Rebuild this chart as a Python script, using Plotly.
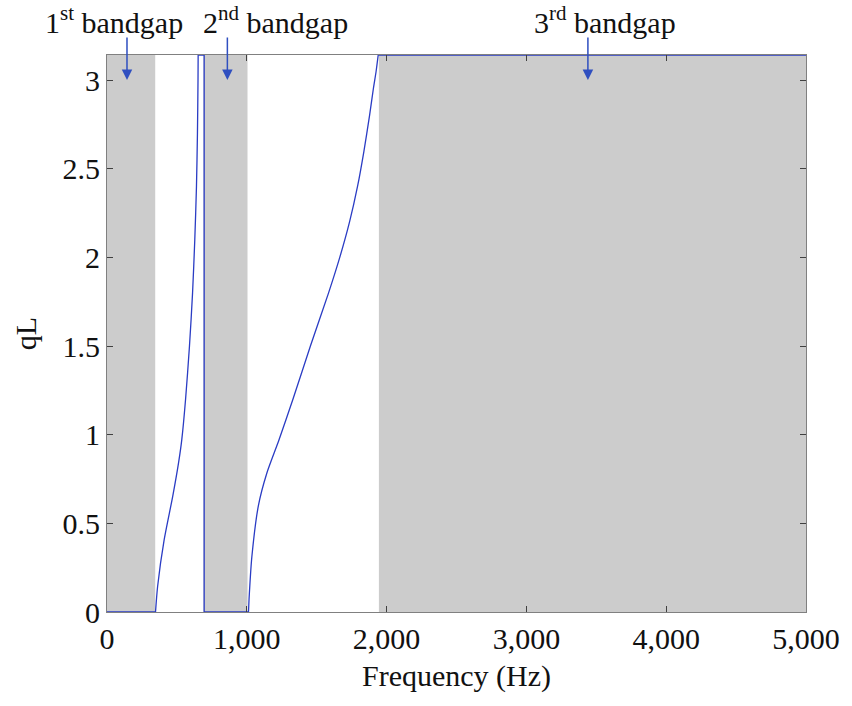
import numpy as np
import plotly.graph_objects as go

PI = np.pi

# Band gap limits (Hz)
gap_start = [0, 690, 1945]
gap_end = [345, 1005, 5000]

# First pass band: frequency (Hz) and normalised wavenumber qL
band1_freq = [347, 362, 409, 470, 512, 535, 562, 590, 612, 628, 640, 647, 651, 652]
band1_qL = [0.0, 0.144, 0.408, 0.652, 0.842, 0.972, 1.2, 1.5, 1.8, 2.1, 2.4, 2.7, 3.0, PI]

# Flat band and second gap
flat_freq = [652, 695, 695, 1012]
flat_qL = [PI, PI, 0.0, 0.0]

# Second pass band
band2_freq = [1012, 1018, 1036, 1083, 1142, 1230, 1330, 1455, 1585, 1665, 1735, 1792, 1838, 1878, 1905, 1925, 1940]
band2_qL = [0.0, 0.1, 0.31, 0.6, 0.78, 0.97, 1.2, 1.5, 1.8, 2.0, 2.2, 2.4, 2.6, 2.8, 2.95, 3.05, PI]

# Third gap (real part of qL equals pi)
tail_freq = [1940, 5000]
tail_qL = [PI, PI]

x_ticks = [0, 1000, 2000, 3000, 4000, 5000]
y_ticks = [0, 0.5, 1, 1.5, 2, 2.5, 3]

labels = ["1<sup>st</sup> bandgap", "2<sup>nd</sup> bandgap", "3<sup>rd</sup> bandgap"]
label_x = [48, 1204, 3565]
arrow_x = [143, 861, 3440]

FONT = "Liberation Serif"
BLUE = "#2a3cc4"
ARROW = "#2f4fc0"
TXT = "#111111"

fig = go.Figure()

for a, b in zip(gap_start, gap_end):
    fig.add_shape(type="rect", xref="x", yref="y", x0=a, x1=b, y0=0, y1=PI,
                  fillcolor="#cccccc", line=dict(width=0), layer="below")

line_style = dict(color=BLUE, width=1.3)
# straight segments
for fx, qy in ([[0, 345], [0.0, 0.0]], [flat_freq, flat_qL], [tail_freq, tail_qL]):
    fig.add_trace(go.Scatter(x=fx, y=qy, mode="lines", line=line_style,
                             showlegend=False, cliponaxis=False))
# dispersion branches
for fx, qy in ((band1_freq, band1_qL), (band2_freq, band2_qL)):
    fig.add_trace(go.Scatter(x=fx, y=qy, mode="lines",
                             line=dict(shape="spline", smoothing=0.7, **line_style),
                             showlegend=False, cliponaxis=False))

for lx, ax_, txt in zip(label_x, arrow_x, labels):
    fig.add_annotation(x=lx, y=1.063, xref="x", yref="paper", text=txt,
                       showarrow=False, xanchor="center", yanchor="middle",
                       font=dict(family=FONT, size=30, color=TXT))
    fig.add_annotation(x=ax_, y=3.0, xref="x", yref="y", text="",
                       showarrow=True, ax=0, ay=-44, arrowhead=2,
                       arrowsize=1.4, arrowwidth=1.5, arrowcolor=ARROW)

axis_common = dict(showline=True, linecolor="#808080", linewidth=1.2,
                   mirror="allticks", ticks="inside", ticklen=6,
                   tickcolor="#404040", tickwidth=1, showgrid=False,
                   zeroline=False,
                   tickfont=dict(family=FONT, size=30, color=TXT))

fig.update_xaxes(range=[0, 5000], tickvals=x_ticks,
                 ticktext=[f"{v:,}" for v in x_ticks],
                 title=dict(text="Frequency (Hz)", standoff=10,
                            font=dict(family=FONT, size=30, color=TXT)),
                 **axis_common)
fig.update_yaxes(range=[0, PI], tickvals=y_ticks,
                 ticktext=[f"{v:g}" for v in y_ticks],
                 title=dict(text="qL", standoff=16,
                            font=dict(family=FONT, size=30, color=TXT)),
                 **axis_common)

fig.update_layout(width=852, height=706, plot_bgcolor="white",
                  paper_bgcolor="white", font=dict(family=FONT),
                  margin=dict(l=107, r=40, t=55, b=94))

fig.write_html("out.html")
